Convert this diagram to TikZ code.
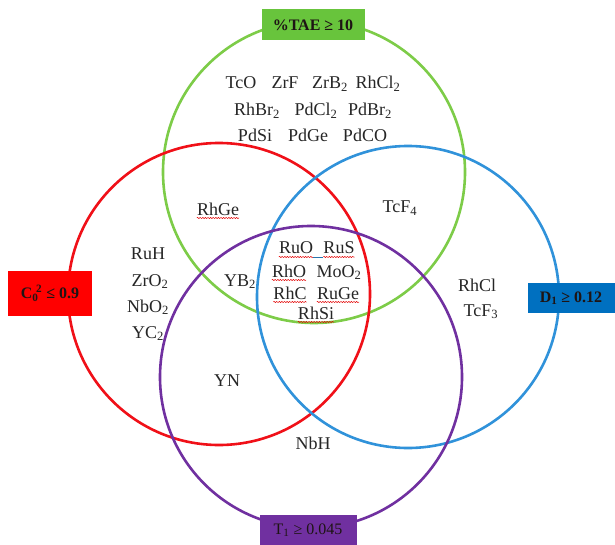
\documentclass[tikz,border=0pt]{standalone}
\usepackage{fontspec}
\setmainfont{Liberation Serif}
\usetikzlibrary{decorations.pathmorphing}
\definecolor{redc}{RGB}{240,16,24}
\definecolor{greenc}{RGB}{125,204,72}
\definecolor{greenbox}{RGB}{104,196,60}
\definecolor{bluec}{RGB}{48,146,218}
\definecolor{bluebox}{RGB}{0,112,192}
\definecolor{purplec}{RGB}{112,48,160}
\definecolor{txtc}{RGB}{38,38,38}
\definecolor{labtxt}{RGB}{30,20,20}
\begin{document}
\begin{tikzpicture}[x=1pt,y=-1pt,
  ring/.style={line width=2.6pt},
  lab/.style={inner sep=0pt, text=labtxt, font=\fontsize{16}{18}\selectfont},
  txt/.style={inner sep=0pt, text=txtc, font=\fontsize{18}{20}\selectfont, text height=12pt, text depth=0pt},
  wav/.style={draw=red!90!black, line width=0.5pt, decorate, decoration={snake, amplitude=0.6pt, segment length=2.6pt}}]
\useasboundingbox (0,0) rectangle (615,545);
\fill[white] (0,0) rectangle (615,545);
% circles
\draw[ring, greenc] (314,172) circle[radius=151pt];
\draw[ring, redc] (219,294) circle[radius=151pt];
\draw[ring, bluec] (408,297) circle[radius=151pt];
\draw[ring, purplec] (311,377) circle[radius=151pt];
% labels
\node[lab, fill=greenbox, minimum width=103pt, minimum height=31pt, font=\fontsize{16}{18}\selectfont\bfseries] (tae) at (313,25) {\%TAE ≥ 10};
\node[lab, fill=red, minimum width=84pt, minimum height=45pt, font=\fontsize{16}{18}\selectfont\bfseries] (cz) at (50,293) {C\textsubscript{0}\hspace{-0.15em}\textsuperscript{2} ≤ 0.9};
\node[lab, fill=bluebox, minimum width=87pt, minimum height=30pt, font=\fontsize{16}{18}\selectfont\bfseries] (dd) at (571,298) {D\textsubscript{1} ≥ 0.12};
\node[lab, fill=purplec, minimum width=97pt, minimum height=31pt] (tt) at (308,530) {T\textsubscript{1} ≥ 0.045};
% green only
\node[txt] (tco) at (241,83) {TcO};
\node[txt] (zrf) at (285,83) {ZrF};
\node[txt] (zrb) at (330,83) {ZrB\textsubscript{2}};
\node[txt] (rhcl2) at (378,83) {RhCl\textsubscript{2}};
\node[txt] (rhbr) at (257,110) {RhBr\textsubscript{2}};
\node[txt] (pdcl) at (316,110) {PdCl\textsubscript{2}};
\node[txt] (pdbr) at (370,110) {PdBr\textsubscript{2}};
\node[txt] (pdsi) at (255,136) {PdSi};
\node[txt] (pdge) at (308,136) {PdGe};
\node[txt] (pdco) at (365,136) {PdCO};
% green & red
\node[txt] (rhge) at (218,209) {RhGe};
% green & blue
\node[txt] (tcf4) at (400,207) {TcF\textsubscript{4}};
% red only
\node[txt] (ruh) at (148,253) {RuH};
\node[txt] (zro) at (150,280) {ZrO\textsubscript{2}};
\node[txt] (nbo) at (148,306) {NbO\textsubscript{2}};
\node[txt] (yc) at (148,332) {YC\textsubscript{2}};
% red green purple
\node[txt] (yb) at (240,280) {YB\textsubscript{2}};
% red purple
\node[txt] (yn) at (227,380) {YN};
% all four
\node[txt] (ruo) at (296,248) {RuO};
\node[txt] (rus) at (339,248) {RuS};
\node[txt] (rho) at (289,271) {RhO};
\node[txt] (moo) at (339,271) {MoO\textsubscript{2}};
\node[txt] (rhc) at (290,293) {RhC};
\node[txt] (ruge) at (338,293) {RuGe};
\node[txt] (rhsi) at (316,313) {RhSi};
% blue purple
\node[txt] (nbh) at (313,443) {NbH};
% blue only
\node[txt] (rhcl) at (477,285) {RhCl};
\node[txt] (tcf3) at (481,310) {TcF\textsubscript{3}};
% spell-check underlines
\foreach \n in {rhge,ruo,rus,rho,rhc,ruge,rhsi}
  \draw[wav] ([yshift=-3pt]\n.base west) -- ([yshift=-3pt]\n.base east);
\draw[bluec!80!black, line width=0.6pt] ([yshift=-3pt]ruo.base east) -- ([yshift=-3pt]rus.base west);
\end{tikzpicture}
\end{document}
